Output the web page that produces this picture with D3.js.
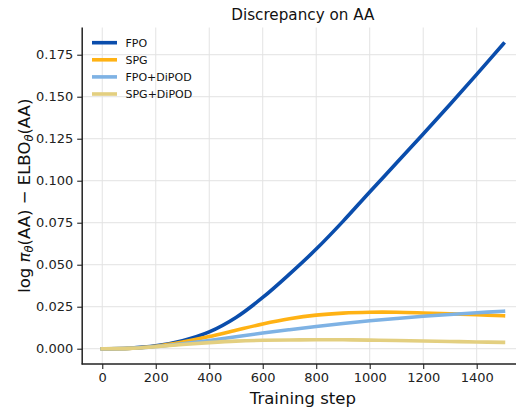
<!DOCTYPE html>
<html>
<head>
<meta charset="utf-8">
<script src="https://cdn.jsdelivr.net/npm/d3@7"></script>
<style>
	body { margin: 0; background: #fff; }
	svg { font-family: "DejaVu Sans", sans-serif; display: block; }
</style>
</head>
<body>
<svg id="chart" width="516" height="413"></svg>
<script>

var steps = [0, 100, 200, 300, 400, 500, 600, 700, 800, 900, 1000, 1100, 1200, 1300, 1400, 1500];

var fpo = [0, 0.0003, 0.0017, 0.0048, 0.0100, 0.0186, 0.0305, 0.0444, 0.0593, 0.0758, 0.0933,
			0.1105, 0.1278, 0.1454, 0.1633, 0.1815];
var spg = [0, 0.0002, 0.0015, 0.0040, 0.0072, 0.0110, 0.0147, 0.0178, 0.0200, 0.0212, 0.0217,
			0.0217, 0.0213, 0.0208, 0.0202, 0.0196];
var fpoDipod = [0, 0.0002, 0.0013, 0.0030, 0.0049, 0.0071, 0.0093, 0.0113, 0.0132, 0.0150, 0.0166,
			0.0180, 0.0193, 0.0204, 0.0214, 0.0223];
var spgDipod = [0, 0.0002, 0.0012, 0.0025, 0.0036, 0.0045, 0.0050, 0.0052, 0.0053, 0.0053, 0.0051,
			0.0049, 0.0046, 0.0043, 0.0040, 0.0038];

var seriesNames = ["FPO", "SPG", "FPO+DiPOD", "SPG+DiPOD"];
var seriesValues = [fpo, spg, fpoDipod, spgDipod];
var seriesColours = ["#0a4dac", "#ffb214", "#7eb2e4", "#e3cf80"];

var xTicks = [0, 200, 400, 600, 800, 1000, 1200, 1400];
var yTicks = [0, 0.025, 0.05, 0.075, 0.1, 0.125, 0.15, 0.175];


var svg = d3.select("#chart");

// plot area edges (window.top is reserved, so not called "top")
var plotLeft = 82.2, plotRight = 523.5, plotTop = 27.5, plotBottom = 364;

var x = d3.scaleLinear().domain([-75, 1575]).range([plotLeft, plotRight]);
var y = d3.scaleLinear().domain([-0.0091, 0.1912]).range([plotBottom, plotTop]);

// grid
var grid = svg.append("g").attr("class", "grid")
				.style("stroke", "#e3e3e3")
				.style("stroke-width", 1);

grid.selectAll(".gx")
	.data(xTicks).enter()
	.append("line")
	.attr("x1", function(d) { return x(d); })
	.attr("x2", function(d) { return x(d); })
	.attr("y1", plotTop)
	.attr("y2", plotBottom);

grid.selectAll(".gy")
	.data(yTicks).enter()
	.append("line")
	.attr("x1", plotLeft)
	.attr("x2", plotRight)
	.attr("y1", function(d) { return y(d); })
	.attr("y2", function(d) { return y(d); });

// curves
var line = d3.line()
				.x(function(d, i) { return x(steps[i]); })
				.y(function(d) { return y(d); })
				.curve(d3.curveCatmullRom.alpha(0.5));

svg.append("g")
	.selectAll("path")
	.data(seriesValues).enter()
	.append("path")
	.attr("d", line)
	.style("fill", "none")
	.style("stroke", function(d, i) { return seriesColours[i]; })
	.style("stroke-width", 3.6)
	.style("stroke-linecap", "square");

// axes
var xAxis = svg.append("g")
				.attr("transform", "translate(0," + plotBottom + ")")
				.call(d3.axisBottom(x).tickValues(xTicks).tickSize(5).tickPadding(4)
					.tickFormat(d3.format("d")));

var yAxis = svg.append("g")
				.attr("transform", "translate(" + plotLeft + ",0)")
				.call(d3.axisLeft(y).tickValues(yTicks).tickSize(5).tickPadding(4)
					.tickFormat(d3.format(".3f")));

xAxis.select(".domain").remove();
yAxis.select(".domain").remove();

svg.selectAll(".tick text")
	.style("font-family", "DejaVu Sans")
	.style("font-size", "13px")
	.style("fill", "#222");

svg.selectAll(".tick line")
	.style("stroke", "#222")
	.style("stroke-width", 1.1);

// spines
svg.append("line")
	.attr("x1", plotLeft).attr("x2", plotLeft)
	.attr("y1", plotTop).attr("y2", plotBottom + 0.6)
	.style("stroke", "#222").style("stroke-width", 1.5);

svg.append("line")
	.attr("x1", plotLeft - 0.6).attr("x2", plotRight)
	.attr("y1", plotBottom).attr("y2", plotBottom)
	.style("stroke", "#222").style("stroke-width", 1.5);

// title and labels
svg.append("text")
	.attr("x", (plotLeft + plotRight) / 2)
	.attr("y", 20)
	.attr("text-anchor", "middle")
	.style("font-size", "15.2px")
	.style("fill", "#111")
	.text("Discrepancy on AA");

svg.append("text")
	.attr("x", (plotLeft + plotRight) / 2)
	.attr("y", 404)
	.attr("text-anchor", "middle")
	.style("font-size", "16.5px")
	.style("fill", "#111")
	.text("Training step");

var yLabel = svg.append("text")
				.attr("transform", "translate(29.5," + ((plotTop + plotBottom) / 2) + ") rotate(-90)")
				.attr("text-anchor", "middle")
				.style("font-size", "16.5px")
				.style("fill", "#111");

yLabel.append("tspan").text("log ");
yLabel.append("tspan").style("font-style", "italic").text("π");
yLabel.append("tspan").style("font-style", "italic").style("font-size", "11.5px")
	.attr("dy", 3).text("θ");
yLabel.append("tspan").attr("dy", -3).text("(AA) − ELBO");
yLabel.append("tspan").style("font-style", "italic").style("font-size", "11.5px")
	.attr("dy", 3).text("θ");
yLabel.append("tspan").attr("dy", -3).text("(AA)");

// legend
var legend = svg.append("g")
				.selectAll("g")
				.data(seriesNames).enter()
				.append("g")
				.attr("transform", function(d, i) { return "translate(0," + (42.7 + i * 17.1) + ")"; });

legend.append("line")
	.attr("x1", 92)
	.attr("x2", 117)
	.style("stroke", function(d, i) { return seriesColours[i]; })
	.style("stroke-width", 3.6);

legend.append("text")
	.attr("x", 125.5)
	.attr("dy", "0.35em")
	.style("font-size", "11px")
	.style("fill", "#111")
	.text(function(d) { return d; });

</script>
</body>
</html>
